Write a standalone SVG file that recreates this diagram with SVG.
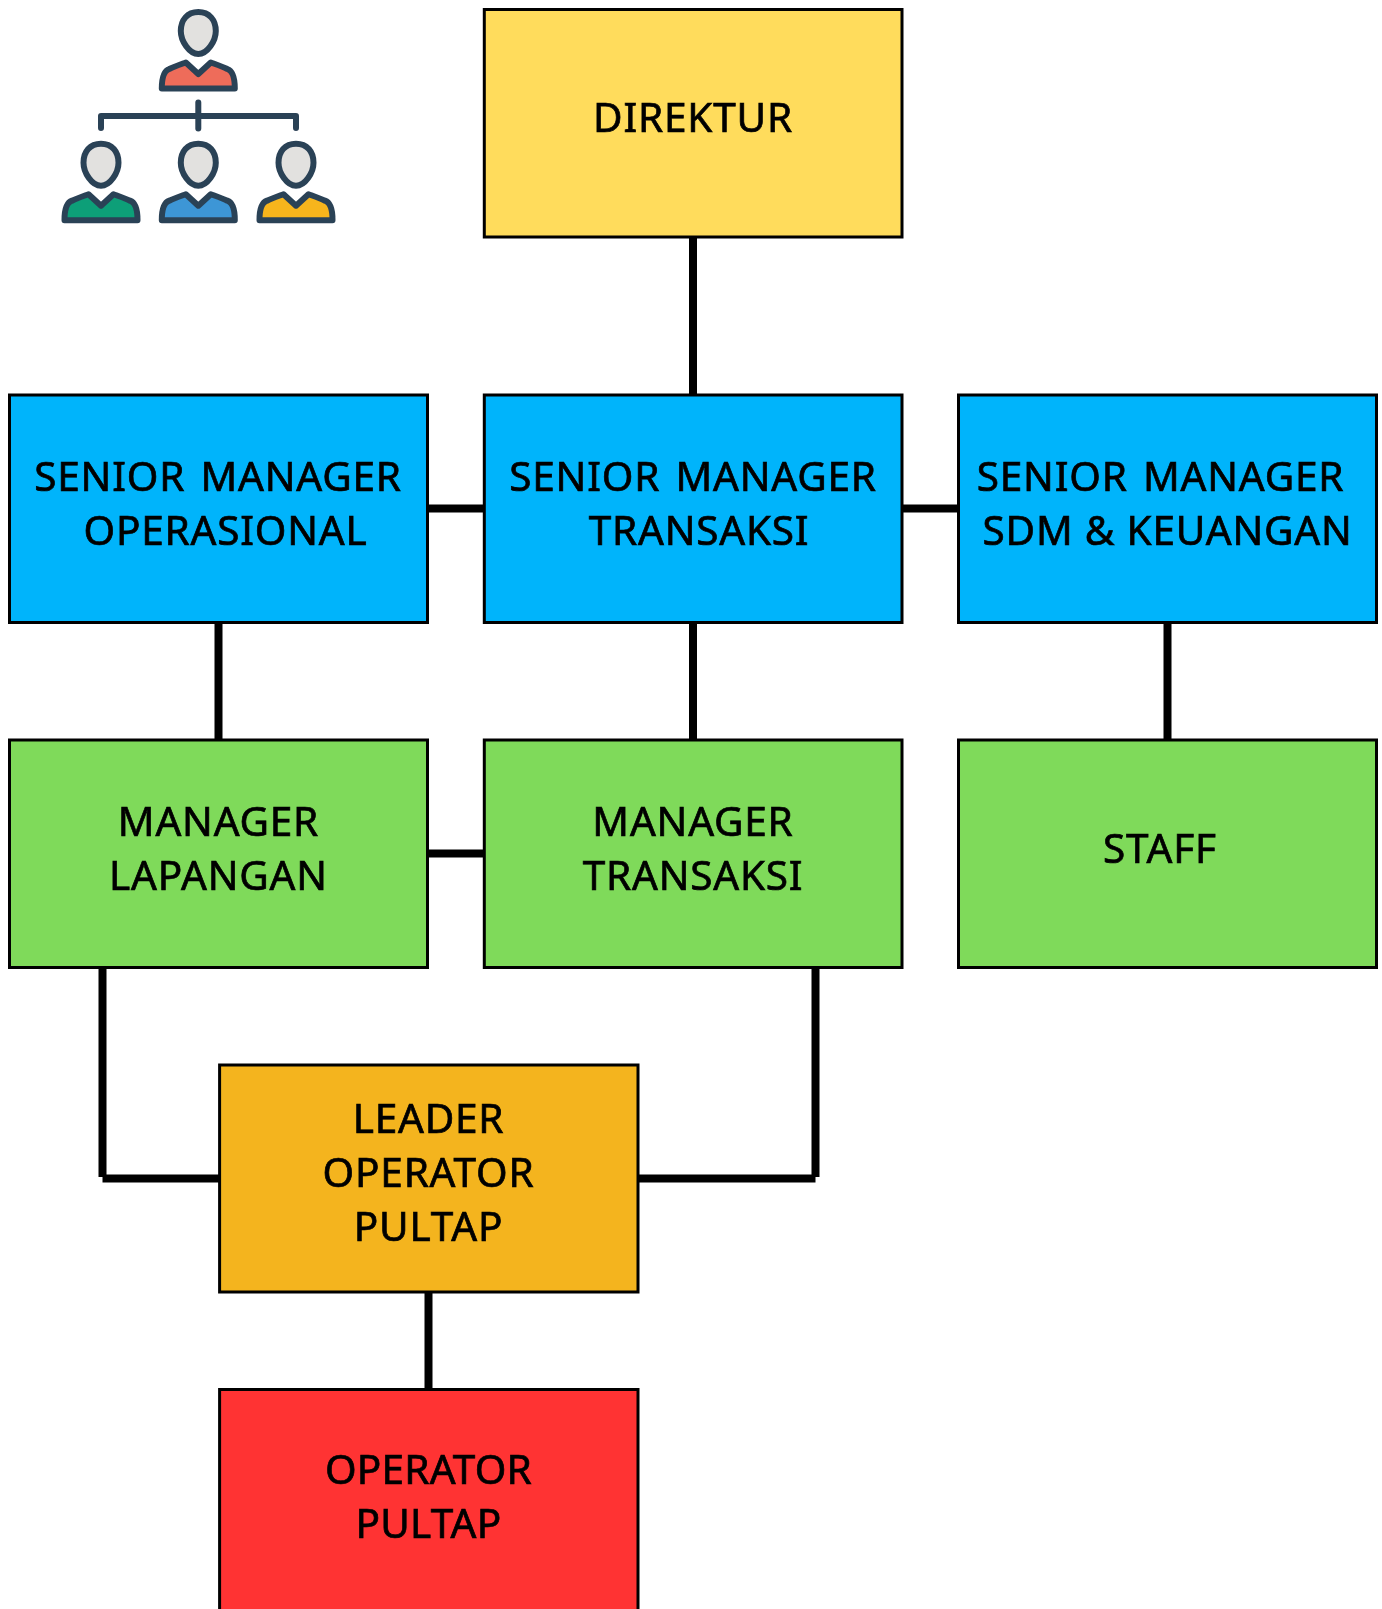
<svg xmlns="http://www.w3.org/2000/svg" width="1382" height="1609" viewBox="0 0 1382 1609">
<style>
.b{stroke:#000;stroke-width:3}
.t{font-family:"Noto Sans",sans-serif;font-size:40.5px;fill:#000;stroke:#000;stroke-width:.7px;letter-spacing:.8px;word-spacing:4px;text-anchor:middle}
.n{letter-spacing:.2px}
.w{word-spacing:0}
.c{stroke:#000;stroke-width:8;fill:none}
.yl{fill:#FFDC5C}.bl{fill:#00B4FB}.gr{fill:#7FDA5A}.or{fill:#F4B41E}.rd{fill:#FF3333}
.ic{stroke:#2C4257;stroke-width:6;stroke-linejoin:round;stroke-linecap:round}
</style>
<defs>
<filter id="soft" x="-5%" y="-5%" width="110%" height="110%"><feGaussianBlur stdDeviation="0.5"/></filter>
<g id="person">
<path class="ic" style="fill:#E2E1DF" d="M0 12C-11 12-17.500 20-17.500 31C-17.500 41-9 54 0 54C9 54 17.500 41 17.500 31C17.500 20 11 12 0 12Z"/>
<path class="ic" d="M-36.500 88.500C-36.500 79-35 71-29 69C-24 66.500-18 64.500-12.500 62.500L0 74L12.500 62.500C18 64.500 24 66.500 29 69C35 71 36.500 79 36.500 88.500Z"/>
</g>
</defs>
<g id="icon" filter="url(#soft)">
<use href="#person" x="198.300" y="0" fill="#EE6C5A"/>
<use href="#person" x="101" y="131.700" fill="#0E9F78"/>
<use href="#person" x="198.300" y="131.700" fill="#3C96D6"/>
<use href="#person" x="296" y="131.700" fill="#F7B51E"/>
<path class="ic" fill="none" d="M101 128V116H296V128M198.300 102.500V128.500"/>
</g>
<g id="connectors">
<line class="c" x1="693" y1="237" x2="693" y2="395"/>
<line class="c" x1="428" y1="508.500" x2="484" y2="508.500"/>
<line class="c" x1="902" y1="508.500" x2="958" y2="508.500"/>
<line class="c" x1="218.500" y1="622" x2="218.500" y2="740"/>
<line class="c" x1="693" y1="622" x2="693" y2="740"/>
<line class="c" x1="1167.500" y1="622" x2="1167.500" y2="740"/>
<line class="c" x1="428" y1="853.500" x2="484" y2="853.500"/>
<line class="c" x1="102.500" y1="967" x2="102.500" y2="1177"/>
<line class="c" x1="102.500" y1="1178.500" x2="220" y2="1178.500"/>
<line class="c" x1="815.500" y1="967" x2="815.500" y2="1177"/>
<line class="c" x1="638" y1="1178.500" x2="815.500" y2="1178.500"/>
<line class="c" x1="428.500" y1="1292" x2="428.500" y2="1389"/>
</g>
<g id="direktur"><rect class="b yl" x="484.300" y="9.500" width="417.700" height="227.500"/><text class="t" x="693" y="132">DIREKTUR</text></g>
<g id="sm-operasional"><rect class="b bl" x="9.500" y="395" width="418" height="227.500"/><text class="t" x="218" y="491">SENIOR MANAGER</text><text class="t" x="225.500" y="545">OPERASIONAL</text></g>
<g id="sm-transaksi"><rect class="b bl" x="484.300" y="395" width="417.700" height="227.500"/><text class="t" x="693" y="491">SENIOR MANAGER</text><text class="t" x="699" y="545">TRANSAKSI</text></g>
<g id="sm-sdm"><rect class="b bl" x="958.500" y="395" width="418" height="227.500"/><text class="t" x="1160.500" y="491">SENIOR MANAGER</text><text class="t w" x="1167.500" y="545">SDM &amp; KEUANGAN</text></g>
<g id="m-lapangan"><rect class="b gr" x="9.500" y="740" width="418" height="227.500"/><text class="t" x="218.500" y="836">MANAGER</text><text class="t" x="218.500" y="890">LAPANGAN</text></g>
<g id="m-transaksi"><rect class="b gr" x="484.300" y="740" width="417.700" height="227.500"/><text class="t" x="693" y="836">MANAGER</text><text class="t" x="693" y="890">TRANSAKSI</text></g>
<g id="staff"><rect class="b gr" x="958.500" y="740" width="418" height="227.500"/><text class="t" x="1160" y="863">STAFF</text></g>
<g id="leader"><rect class="b or" x="219.600" y="1065" width="418.400" height="227"/><text class="t" x="428.500" y="1133">LEADER</text><text class="t" x="428.500" y="1187">OPERATOR</text><text class="t" x="428.500" y="1241">PULTAP</text></g>
<g id="operator"><rect class="b rd" x="219.600" y="1389.500" width="418.400" height="240"/><text class="t n" x="428.500" y="1484">OPERATOR</text><text class="t n" x="428.500" y="1538">PULTAP</text></g>
</svg>
